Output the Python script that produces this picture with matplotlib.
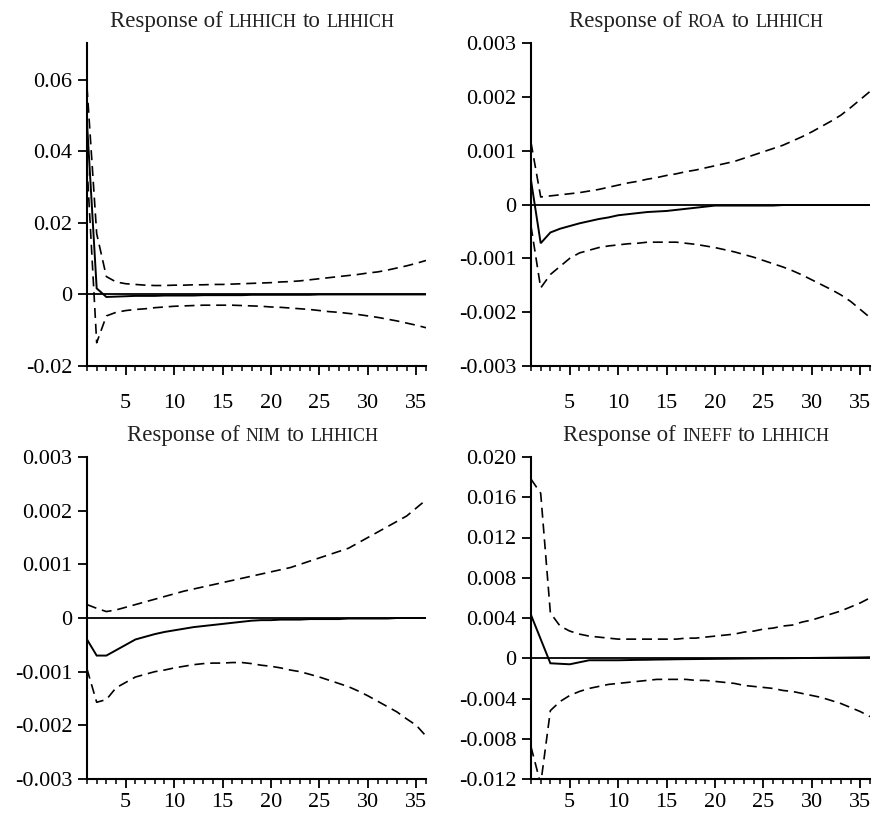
import numpy as np
import matplotlib
matplotlib.use("Agg")
import matplotlib.pyplot as plt
from matplotlib.ticker import FixedLocator, MultipleLocator

periods = list(range(1, 37))

# Response of LHHICH to LHHICH
lhhich_resp = [0.048, 0.0017, -0.0007, -0.0006, -0.0005, -0.0004, -0.0004, -0.0004, -0.0003, -0.0003,
               -0.0003, -0.0003, -0.0002, -0.0002, -0.0002, -0.0002, -0.0002, -0.0001, -0.0001, -0.0001,
               -0.0001, -0.0001, -0.0001, -0.0001, 0.0, 0.0, 0.0, 0.0, 0.0, 0.0,
               0.0, 0.0, 0.0, 0.0, 0.0, 0.0]
lhhich_upper = [0.058, 0.017, 0.005, 0.0035, 0.003, 0.0028, 0.0026, 0.0025, 0.0025, 0.0026,
                0.0026, 0.0027, 0.0027, 0.0028, 0.0028, 0.0029, 0.003, 0.0031, 0.0032, 0.0033,
                0.0035, 0.0036, 0.0038, 0.0041, 0.0044, 0.0047, 0.005, 0.0053, 0.0056, 0.006,
                0.0063, 0.0068, 0.0074, 0.008, 0.0087, 0.0095]
lhhich_lower = [0.036, -0.0135, -0.006, -0.005, -0.0045, -0.0042, -0.004, -0.0037, -0.0035, -0.0033,
                -0.0032, -0.0031, -0.003, -0.003, -0.003, -0.003, -0.0031, -0.0032, -0.0033, -0.0035,
                -0.0036, -0.0038, -0.004, -0.0042, -0.0045, -0.0048, -0.005, -0.0053, -0.0056, -0.006,
                -0.0064, -0.0069, -0.0074, -0.008, -0.0086, -0.0093]

# Response of ROA to LHHICH
roa_resp = [0.00045, -0.00072, -0.00052, -0.00045, -0.0004, -0.00035, -0.00031, -0.00027, -0.00024, -0.0002,
            -0.00018, -0.00016, -0.00014, -0.00013, -0.00012, -0.0001, -0.00008, -0.00006, -0.00004, -0.00002,
            -0.00002, -0.00002, -0.00002, -0.00002, -0.00002, -0.00002, -0.00001, -0.00001, -0.00001, -0.00001,
            -0.00001, -0.00001, -0.00001, -0.00001, -0.00001, -0.00001]
roa_upper = [0.00115, 0.00014, 0.00016, 0.00018, 0.0002, 0.00022, 0.00025, 0.00028, 0.00032, 0.00036,
             0.0004, 0.00043, 0.00047, 0.0005, 0.00054, 0.00057, 0.00061, 0.00064, 0.00068, 0.00072,
             0.00076, 0.0008, 0.00086, 0.00092, 0.00098, 0.00104, 0.0011, 0.00118, 0.00126, 0.00135,
             0.00145, 0.00155, 0.00166, 0.0018, 0.00195, 0.0021]
roa_lower = [-0.0004, -0.00155, -0.0013, -0.00115, -0.001, -0.0009, -0.00085, -0.0008, -0.00077, -0.00075,
             -0.00073, -0.00072, -0.0007, -0.0007, -0.0007, -0.0007, -0.00072, -0.00074, -0.00077, -0.0008,
             -0.00084, -0.00088, -0.00093, -0.00098, -0.00104, -0.0011, -0.00116, -0.00123, -0.00131, -0.0014,
             -0.00149, -0.00158, -0.00168, -0.0018, -0.00195, -0.0021]

# Response of NIM to LHHICH
nim_resp = [-0.0004, -0.0007, -0.0007, -0.0006, -0.0005, -0.0004, -0.00035, -0.0003, -0.00026, -0.00023,
            -0.0002, -0.00017, -0.00015, -0.00013, -0.00011, -0.00009, -0.00007, -0.00005, -0.00004, -0.00004,
            -0.00003, -0.00003, -0.00003, -0.00002, -0.00002, -0.00002, -0.00002, -0.00001, -0.00001, -0.00001,
            -0.00001, -0.00001, 0.0, 0.0, 0.0, 0.0]
nim_upper = [0.00025, 0.00018, 0.00012, 0.00015, 0.0002, 0.00025, 0.0003, 0.00035, 0.0004, 0.00045,
             0.0005, 0.00054, 0.00058, 0.00062, 0.00066, 0.0007, 0.00074, 0.00078, 0.00082, 0.00086,
             0.0009, 0.00094, 0.001, 0.00106, 0.00112, 0.00118, 0.00124, 0.0013, 0.0014, 0.0015,
             0.0016, 0.0017, 0.0018, 0.0019, 0.00205, 0.0022]
nim_lower = [-0.00095, -0.00157, -0.00152, -0.0013, -0.0012, -0.0011, -0.00105, -0.001, -0.00097, -0.00093,
             -0.0009, -0.00087, -0.00085, -0.00084, -0.00084, -0.00083, -0.00083, -0.00085, -0.00088, -0.0009,
             -0.00093, -0.00097, -0.001, -0.00105, -0.0011, -0.00116, -0.00122, -0.00128, -0.00136, -0.00145,
             -0.00155, -0.00165, -0.00175, -0.00188, -0.002, -0.0022]

# Response of INEFF to LHHICH
ineff_resp = [0.0043, 0.0019, -0.0005, -0.00055, -0.0006, -0.0004, -0.0002, -0.0002, -0.0002, -0.0002,
              -0.00018, -0.00016, -0.00015, -0.00013, -0.00012, -0.0001, -0.00009, -0.00008, -0.00007, -0.00006,
              -0.00005, -0.00004, -0.00003, -0.00002, -0.00001, 0.0, 0.0, 0.00001, 0.00002, 0.00003,
              0.00004, 0.00005, 0.00006, 0.00007, 0.00008, 0.0001]
ineff_upper = [0.0178, 0.0164, 0.0045, 0.0032, 0.0027, 0.0024, 0.0022, 0.0021, 0.002, 0.0019,
               0.0019, 0.0019, 0.0019, 0.0019, 0.0019, 0.0019, 0.002, 0.002, 0.0021, 0.0022,
               0.0023, 0.0024, 0.0026, 0.0027, 0.0029, 0.003, 0.0032, 0.0033, 0.0036, 0.0038,
               0.0041, 0.0044, 0.0047, 0.0051, 0.0055, 0.006]
ineff_lower = [-0.0088, -0.0125, -0.0052, -0.0043, -0.0037, -0.0033, -0.003, -0.0028, -0.0026, -0.0025,
               -0.0024, -0.0023, -0.0022, -0.0021, -0.0021, -0.0021, -0.0021, -0.0022, -0.0022, -0.0023,
               -0.0024, -0.0025, -0.0027, -0.0028, -0.0029, -0.003, -0.0032, -0.0033, -0.0035, -0.0037,
               -0.0039, -0.0042, -0.0045, -0.0049, -0.0053, -0.0058]

title_vars = ["LHHICH", "ROA", "NIM", "INEFF"]
shock_var = "LHHICH"
x_ticks = [5, 10, 15, 20, 25, 30, 35]
y_ticks = [
    [-0.02, 0.0, 0.02, 0.04, 0.06],
    [-0.003, -0.002, -0.001, 0.0, 0.001, 0.002, 0.003],
    [-0.003, -0.002, -0.001, 0.0, 0.001, 0.002, 0.003],
    [-0.012, -0.008, -0.004, 0.0, 0.004, 0.008, 0.012, 0.016, 0.020],
]
y_ticklabels = [
    ["-0.02", "0", "0.02", "0.04", "0.06"],
    ["-0.003", "-0.002", "-0.001", "0", "0.001", "0.002", "0.003"],
    ["-0.003", "-0.002", "-0.001", "0", "0.001", "0.002", "0.003"],
    ["-0.012", "-0.008", "-0.004", "0", "0.004", "0.008", "0.012", "0.016", "0.020"],
]
y_limits = [(-0.02, 0.0703), (-0.003, 0.003), (-0.003, 0.003), (-0.012, 0.020)]

series = [
    (lhhich_resp, lhhich_upper, lhhich_lower),
    (roa_resp, roa_upper, roa_lower),
    (nim_resp, nim_upper, nim_lower),
    (ineff_resp, ineff_upper, ineff_lower),
]

SERIF = ["Liberation Serif", "DejaVu Serif"]
plt.rcParams["font.family"] = SERIF

W, H = 874, 814
fig = plt.figure(figsize=(W / 100, H / 100), dpi=100)

# axes rectangles in pixels: (left, top, right, bottom)
rects_px = [(87, 43, 426, 366), (531, 43, 870, 366), (87, 457, 426, 779), (531, 457, 870, 779)]
x_pads = [14.0, 14.0, 3.5, 3.5]
axes = []
for (l, t, r, b) in rects_px:
    ax = fig.add_axes([l / W, 1 - b / H, (r - l) / W, (b - t) / H])
    axes.append(ax)

for i, ax in enumerate(axes):
    resp, up, lo = series[i]
    ax.plot(periods, resp, color="black", lw=1.4, solid_joinstyle="miter")
    ax.plot(periods, up, color="black", lw=1.2, dashes=(6, 3.5))
    ax.plot(periods, lo, color="black", lw=1.2, dashes=(6, 3.5))
    ax.axhline(0, color="black", lw=1.3)
    ax.set_xlim(1, 36)
    ax.set_ylim(*y_limits[i])
    ax.xaxis.set_major_locator(FixedLocator(x_ticks))
    ax.xaxis.set_minor_locator(MultipleLocator(1))
    ax.set_yticks(y_ticks[i])
    ax.set_yticklabels(y_ticklabels[i])
    for s in ["top", "right"]:
        ax.spines[s].set_visible(False)
    for s in ["left", "bottom"]:
        ax.spines[s].set_linewidth(1.5)
    ax.tick_params(axis="both", which="major", direction="out", length=6.5, width=1.3,
                   labelsize=16, colors="black")
    ax.tick_params(axis="y", which="major", pad=4)
    ax.tick_params(axis="x", which="major", pad=x_pads[i])
    ax.tick_params(axis="x", which="minor", direction="out", length=3.5, width=1.1)
    ax.tick_params(axis="y", which="minor", length=0)
    ax.patch.set_visible(False)

# Titles with small-caps style variable names
fig.canvas.draw()
renderer = fig.canvas.get_renderer()
big, small = 16.5, 13.0
for i, ax in enumerate(axes):
    l, t, r, b = rects_px[i]
    parts = [("Response of", big, 6.0), (title_vars[i], small, 6.0), ("to", big, 6.0), (shock_var, small, 0.0)]
    texts = []
    for s, size, gap in parts:
        tx = fig.text(0, 0, s, fontsize=size, ha="left", va="baseline", color="#222222")
        w = tx.get_window_extent(renderer).width
        texts.append((tx, w, gap))
    total = sum(w + g for _, w, g in texts)
    cx = (l + r) / 2 - 4
    x = cx - total / 2
    y_base = t - 16
    for tx, w, g in texts:
        tx.set_position((x / W, 1 - y_base / H))
        x += w + g

fig.savefig("out.png", dpi=100)
